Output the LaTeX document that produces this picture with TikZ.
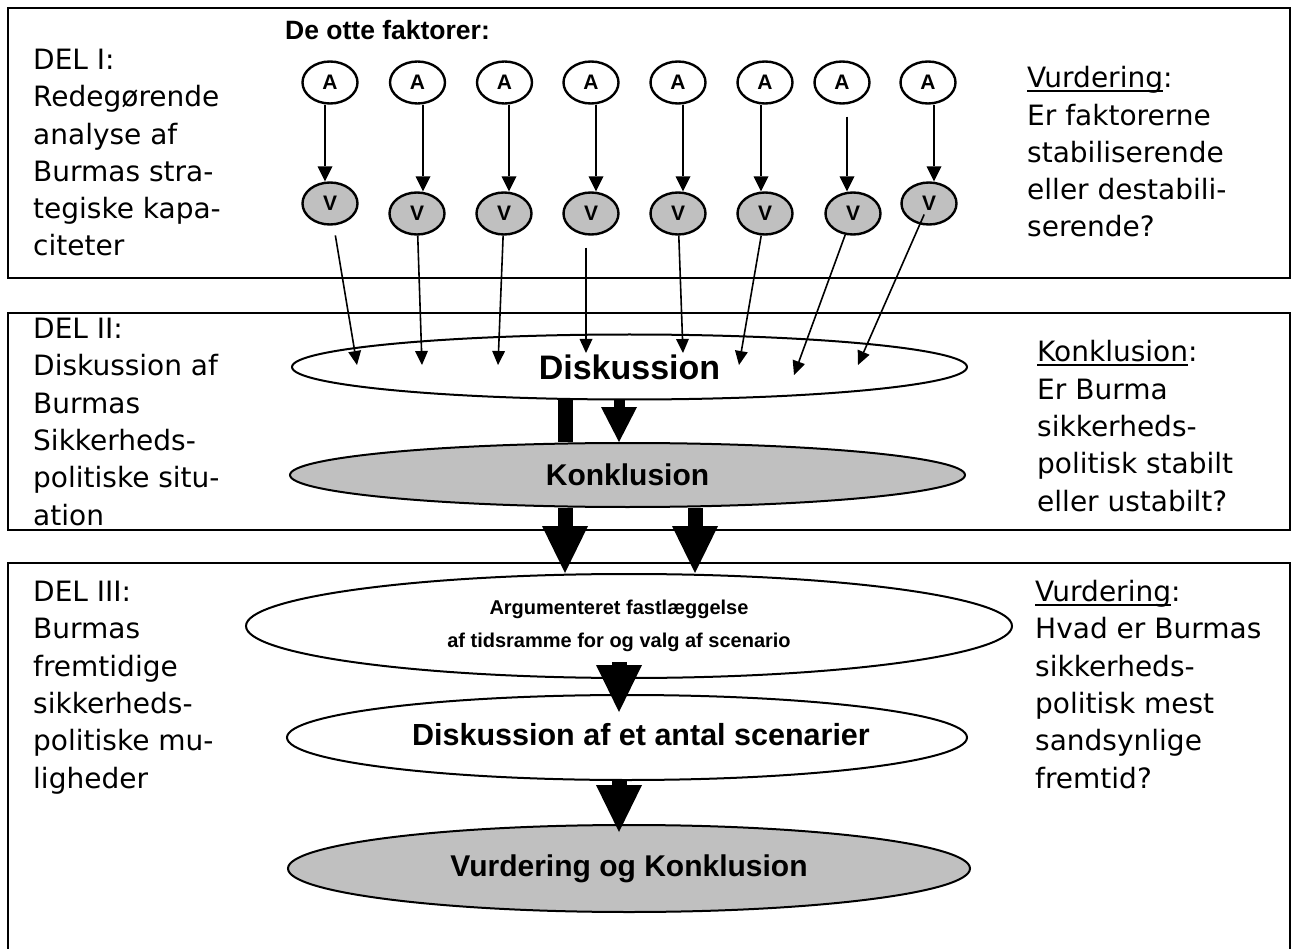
\documentclass[tikz,border=0pt]{standalone}
\usepackage{fontspec}
\setmainfont{DejaVu Sans}
\newfontfamily\arialfont{Liberation Sans}
\usetikzlibrary{arrows.meta,shapes.geometric,calc}
\definecolor{shade}{HTML}{C0C0C0}
\newcommand\myul[1]{\setbox0=\hbox{#1}\rlap{\rule[-4pt]{\wd0}{2pt}}\box0}
\tikzset{
  boxline/.style={line width=2.5pt, line join=miter},
  side/.style={anchor=base west, align=left, inner sep=0pt, font=\fontsize{28}{37.3}\selectfont},
  anode/.style={ellipse, draw, line width=2.4pt, minimum width=55pt, minimum height=42pt, inner sep=0pt, fill=white, font=\arialfont\bfseries\fontsize{21}{21}\selectfont},
  vnode/.style={anode, fill=shade},
  big/.style={ellipse, draw, line width=2pt, inner sep=0pt, fill=white},
  aarr/.style={line width=2.5pt, -{Triangle[length=15pt,width=15pt,line width=0pt]}},
  thinarr/.style={line width=1.6pt, -{Triangle[length=14pt,width=13pt,line width=0pt]}},
  blockbar/.style={line width=15pt},
  medarr/.style={line width=11pt, -{Triangle[length=35pt,width=36pt,line width=0pt]}},
  block/.style={line width=15pt, -{Triangle[length=47pt,width=46pt,line width=0pt]}},
  boldtext/.style={font=\arialfont\bfseries\fontsize{#1}{#1}\selectfont},
}
\begin{document}
\begin{tikzpicture}[x=1pt,y=-1pt]
\useasboundingbox (0,0) rectangle (1293,949);
\clip (0,0) rectangle (1293,949);
% boxes
\draw[boxline] (8,8) rectangle (1290,278);
\draw[boxline] (8,313) rectangle (1290,530);
\draw[boxline] (8,563) rectangle (1290,990);
% side texts (anchor = baseline of the last line)
\node[side] (l1) at (33,256) {DEL I:\\Redegørende\\analyse af\\Burmas stra-\\tegiske kapa-\\citeter};
\node[side] (r1) at (1027,237) {\myul{Vurdering}:\\Er faktorerne\\stabiliserende\\eller destabili-\\serende?};
\node[side] (l2) at (33,525) {DEL II:\\Diskussion af\\Burmas\\Sikkerheds-\\politiske situ-\\ation};
\node[side] (r2) at (1037,511) {\myul{Konklusion}:\\Er Burma\\sikkerheds-\\politisk stabilt\\eller ustabilt?};
\node[side] (l3) at (33,788) {DEL III:\\Burmas\\fremtidige\\sikkerheds-\\politiske mu-\\ligheder};
\node[side] (r3) at (1035,788) {\myul{Vurdering}:\\Hvad er Burmas\\sikkerheds-\\politisk mest\\sandsynlige\\fremtid?};
% title
\node[anchor=base west, inner sep=0pt, boldtext=26.5] (title) at (285,40) {De otte faktorer:};
% factors: index / A x / V x / V y / arrow x
\foreach \i/\xa/\xv/\yv/\xr in {1/330/330/203.5/325, 2/417.5/417/213.5/423, 3/504.5/504/213.5/509, 4/591/591/213.5/596, 5/678/678/213.5/683, 6/765/765/213.5/761, 7/842/853/213.5/847, 8/928/929/203.5/934}{
  \node[anode] (a\i) at (\xa,82.5) {A};
  \node[vnode] (v\i) at (\xv,\yv) {V};
  \coordinate (x\i) at (\xr,0);
}
\foreach \i in {1,2,3,4,5,6,8}{\draw[aarr] (a\i.south -| x\i) -- (v\i.north -| x\i);}
\draw[aarr, shorten <=12pt] (a7.south -| x7) -- (v7.north -| x7);
% main ellipses
\node[big, minimum width=675pt, minimum height=65pt, boldtext=34] (disk) at (629.5,367) {Diskussion};
\node[big, fill=shade, minimum width=675pt, minimum height=64pt, boldtext=30] (konk) at (627.5,475) {Konklusion};
\node[big, minimum width=766pt, minimum height=104pt,
  label={[xshift=-10pt, align=center, font=\arialfont\bfseries\fontsize{20}{33}\selectfont]center:Argumenteret fastlæggelse\\af tidsramme for og valg af scenario}] (arg) at (629,626) {};
\node[big, minimum width=680pt, minimum height=85pt,
  label={[xshift=14pt, yshift=3pt, boldtext=30.5]center:Diskussion af et antal scenarier}] (disc2) at (627,737.5) {};
\node[big, fill=shade, minimum width=682pt, minimum height=87pt, boldtext=30] (vk) at (629,868.5) {Vurdering og Konklusion};
% thin arrows into Diskussion
\coordinate (t1) at (357,365);
\coordinate (t2) at (422,365);
\coordinate (t3) at (498,365);
\coordinate (t4) at (586,353);
\coordinate (t5) at (683,353);
\coordinate (t6) at (739,365);
\coordinate (t7) at (794,375);
\coordinate (t8) at (858,365);
\draw[thinarr, shorten <=10pt] (v1) -- (t1);
\draw[thinarr] (v2) -- (t2);
\draw[thinarr] (v3) -- (t3);
\draw[thinarr, shorten <=12pt] (v4.south -| t4) -- (t4);
\draw[thinarr] (v5) -- (t5);
\draw[thinarr] (v6) -- (t6);
\draw[thinarr] (v7) -- (t7);
\draw[thinarr, shorten <=12pt] (v8.center) -- (t8);
% block arrows
\coordinate (L) at (565,0);
\coordinate (M) at (619,0);
\coordinate (R) at (695,0);
\draw[blockbar] (disk.south -| L) -- (konk.north -| L);
\draw[medarr] (disk.south -| M) -- (konk.north -| M);
\draw[block] (konk.south -| L) -- (arg.north -| L);
\draw[block] (konk.south -| R) -- (arg.north -| R);
\draw[block] ($(arg.south -| M)+(0,-17)$) -- ($(disc2.north -| M)+(0,18)$);
\draw[block] (disc2.south -| M) -- ($(vk.north -| M)+(0,8)$);
\end{tikzpicture}
\end{document}
